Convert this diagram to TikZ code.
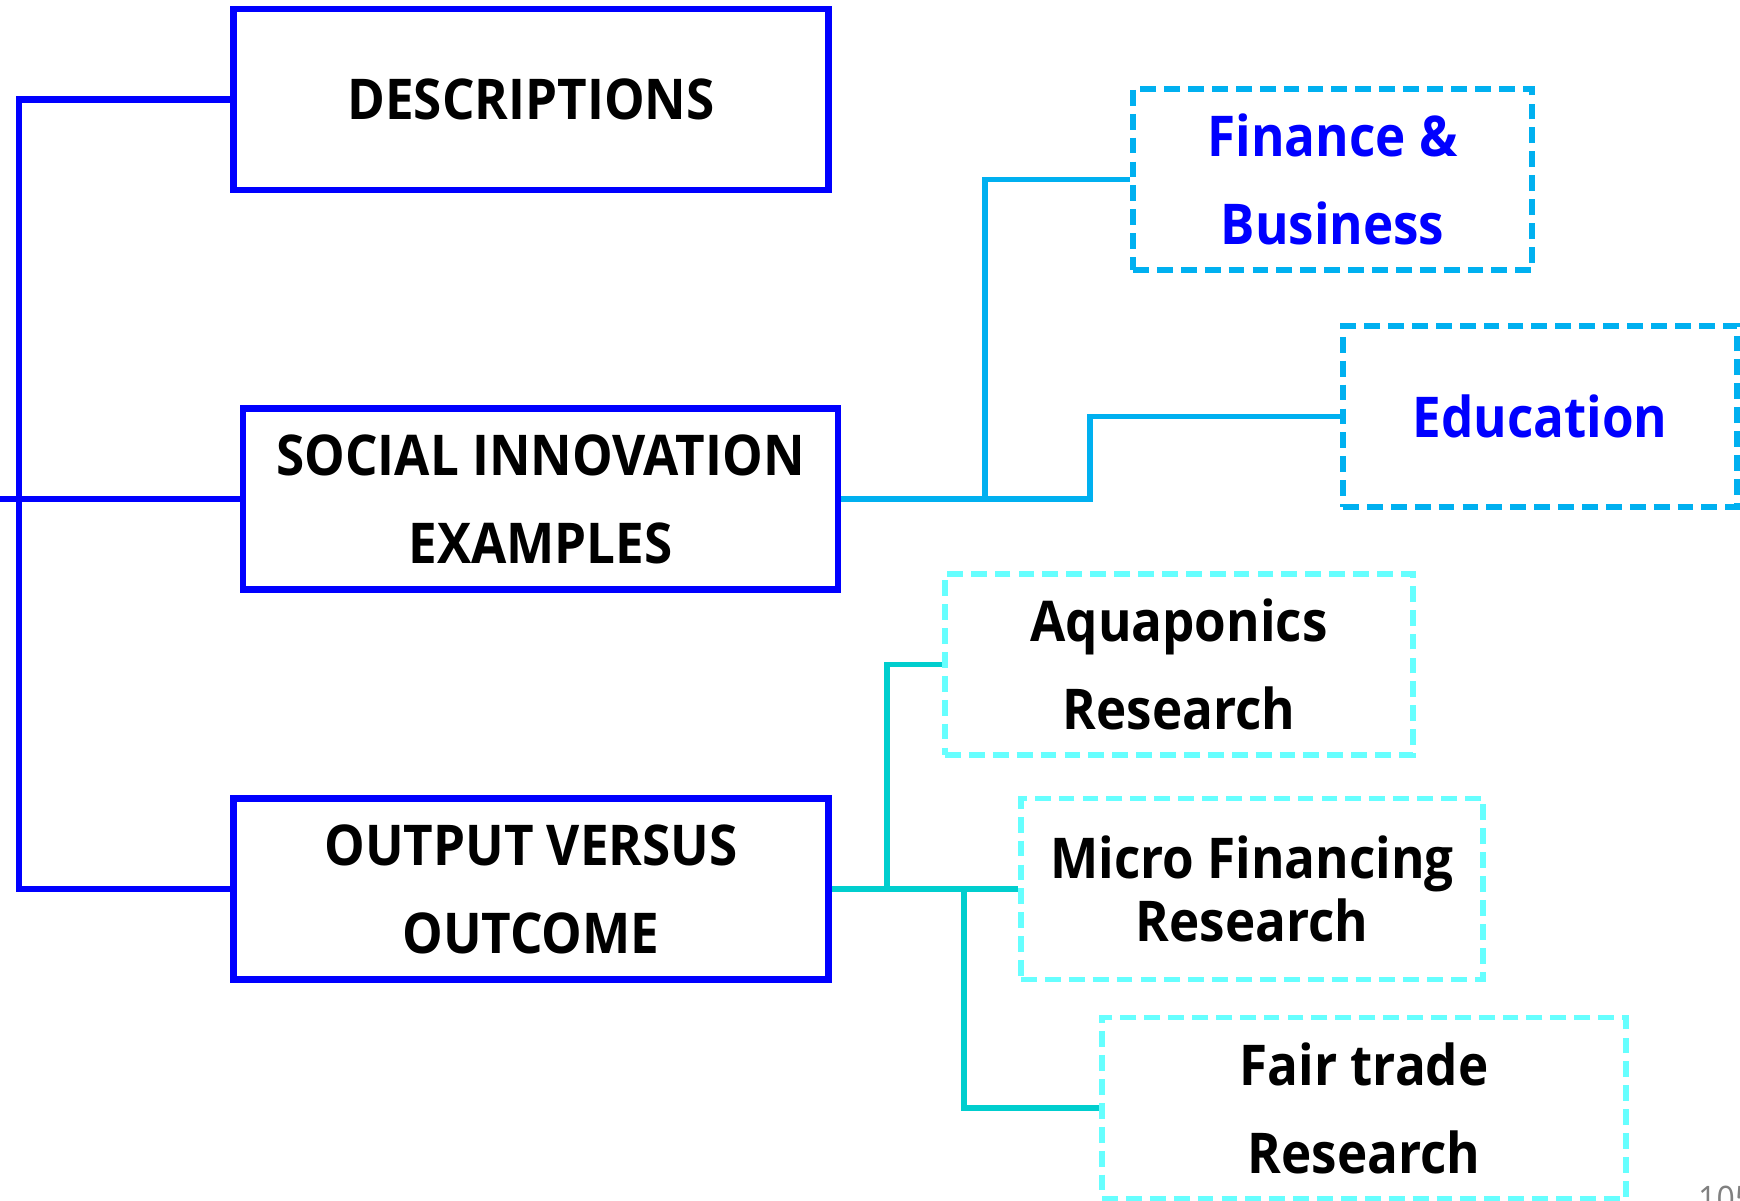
\documentclass[tikz,border=0pt]{standalone}
\usepackage{fontspec}
\setmainfont{Open Sans}[FakeStretch=0.91]
\definecolor{mainblue}{RGB}{0,0,255}
\definecolor{skyline}{RGB}{0,176,240}
\definecolor{aquaedge}{RGB}{102,255,255}
\definecolor{aqualine}{RGB}{0,206,206}

\begin{document}
\begin{tikzpicture}[x=0.02cm, y=-0.02cm,
  mainbox/.style={draw=mainblue, line width=3.5pt, minimum width=11.9cm,
    minimum height=3.62cm, align=center},
  subbox/.style={line width=3.1pt, dash pattern=on 9pt off 4.6pt,
    minimum height=3.62cm, align=center},
  bigtext/.style={font=\fontsize{32}{50}\selectfont\bfseries},
  bluelink/.style={mainblue, line width=3.5pt},
  skylink/.style={skyline, line width=3.4pt},
  aqualink/.style={aqualine, line width=3.4pt}]
\useasboundingbox (0,0) rectangle (1740,1200);

% main column
\node[mainbox, bigtext] (desc) at (531,99.5) {DESCRIPTIONS};
\node[mainbox, bigtext] (soc) at (540.5,499) {SOCIAL INNOVATION\\EXAMPLES};
\node[mainbox, bigtext] (out) at (531,889) {OUTPUT VERSUS\\OUTCOME};

% examples
\node[subbox, draw=skyline, bigtext, text=mainblue, minimum width=7.98cm] (fin) at (1332.5,179.5) {Finance \&\\Business};
\node[subbox, draw=skyline, bigtext, text=mainblue, minimum width=7.88cm] (edu) at (1540,416.5) {Education};

% outcomes
\node[subbox, draw=aquaedge, bigtext, minimum width=9.36cm] (aqu) at (1179,664.5) {Aquaponics\\Research};
\node[subbox, draw=aquaedge, font=\fontsize{32}{36}\selectfont\bfseries, minimum width=9.24cm] (mic) at (1252,889) {Micro Financing\\Research};
\node[subbox, draw=aquaedge, bigtext, minimum width=10.48cm] (fair) at (1364,1108) {Fair trade\\Research};

\node[gray, anchor=north west, font=\fontsize{20}{20}\selectfont] (pagenum) at (1692,1180) {105};

% joints
\coordinate (spine) at (19,0);
\coordinate (leftedge) at (0,0);
\coordinate (finjoint) at (985,0);
\coordinate (edujoint) at (1090,0);
\coordinate (aqujoint) at (887,0);
\coordinate (fairjoint) at (964,0);

\draw[bluelink] (desc.west) -- (desc.west -| spine) -- (out.west -| spine) -- (out.west);
\draw[bluelink] (soc.west) -- (soc.west -| leftedge);

\draw[skylink] (soc.east) -- (soc.east -| edujoint) |- (edu.west);
\draw[skylink] (soc.east -| finjoint) |- (fin.west);

\draw[aqualink] (out.east) -- (mic.west);
\draw[aqualink] (out.east -| aqujoint) |- (aqu.west);
\draw[aqualink] (out.east -| fairjoint) |- (fair.west);
\end{tikzpicture}
\end{document}
